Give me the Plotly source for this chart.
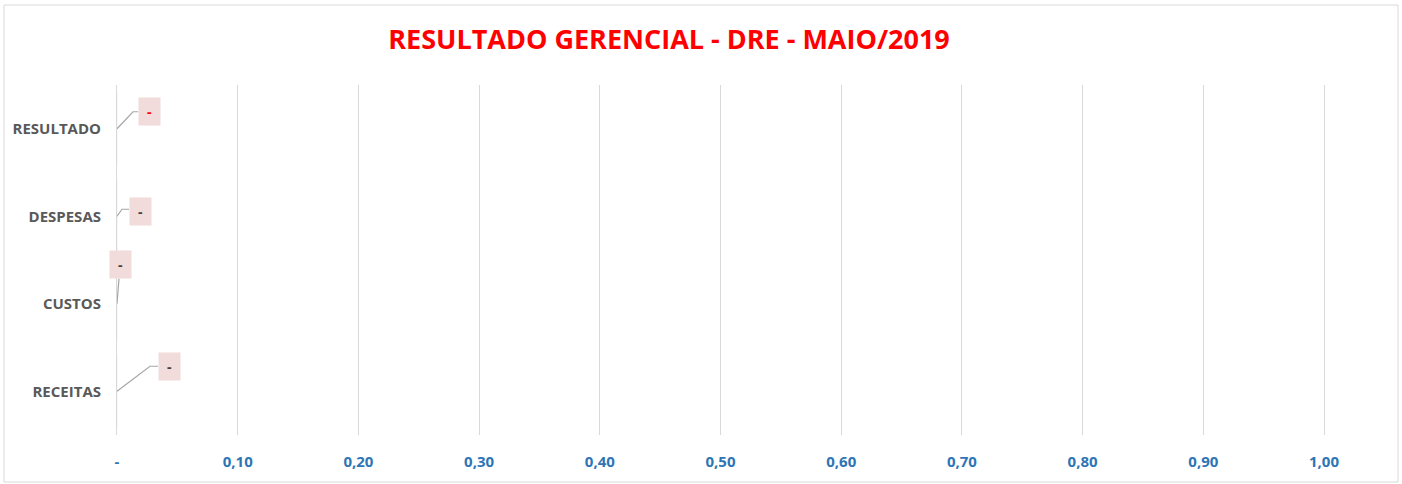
import plotly.graph_objects as go

# Data
categories = ["RECEITAS", "CUSTOS", "DESPESAS", "RESULTADO"]
values = [0.0, 0.0, 0.0, 0.0]
value_labels = ["-", "-", "-", "-"]
tick_values = [0.0, 0.1, 0.2, 0.3, 0.4, 0.5, 0.6, 0.7, 0.8, 0.9, 1.0]
title_text = "RESULTADO GERENCIAL - DRE - MAIO/2019"

W, H = 1402, 484
ML, MR, MT, MB = 117, 78, 85, 49

# label placement (pixel offsets from bar end): box centre, leader path
label_style = [
    dict(dx=52, dy=-25, path="M0,0 L33,25 L41,25", color="#404040"),
    dict(dx=3, dy=-39, path="M0,0 L2,25", color="#404040"),
    dict(dx=23, dy=-5, path="M0,0 L5,7 L12,7", color="#404040"),
    dict(dx=32, dy=-17, path="M0,0 L16,17 L21,17", color="#FF0000"),
]


def fmt_tick(v):
    return "-" if v == 0 else f"{v:.2f}".replace(".", ",")


fig = go.Figure(go.Bar(
    x=values, y=categories, orientation="h",
    marker=dict(color="#4472C4"), hoverinfo="skip", showlegend=False,
))

for cat, val, lab, st in zip(categories, values, value_labels, label_style):
    fig.add_shape(
        type="path", xref="x", yref="y",
        xsizemode="pixel", ysizemode="pixel",
        xanchor=val, yanchor=cat, path=st["path"],
        line=dict(color="#A6A6A6", width=1.2),
    )
    fig.add_annotation(
        x=val, y=cat, xref="x", yref="y", showarrow=False,
        xshift=st["dx"], yshift=-st["dy"],
        text=lab, width=15, height=21, bgcolor="#F2DCDB", borderpad=3,
        font=dict(family="Open Sans", size=14, color=st["color"], weight="bold"),
    )

# outer chart border
pw, ph = W - ML - MR, H - MT - MB
fig.add_shape(
    type="rect", xref="paper", yref="paper",
    x0=(4 - ML) / pw, x1=(1398 - ML) / pw,
    y0=1 - (482 - MT) / ph, y1=1 - (5 - MT) / ph,
    line=dict(color="#D9D9D9", width=1), layer="below",
)

fig.update_layout(
    width=W, height=H,
    margin=dict(l=ML, r=MR, t=MT, b=MB),
    paper_bgcolor="white", plot_bgcolor="white",
    title=dict(
        text=title_text, x=(669 - ML) / pw, xref="paper", xanchor="center",
        y=1 - 40 / H, yanchor="middle",
        font=dict(family="Open Sans", size=27, color="#FF0000", weight="bold"),
    ),
    xaxis=dict(
        range=[0, 1.0], tickvals=tick_values,
        ticktext=[fmt_tick(v) for v in tick_values],
        showgrid=True, gridcolor="#D9D9D9", gridwidth=1,
        zeroline=False, showline=False, ticks="",
        tickfont=dict(family="Open Sans", size=15, color="#2E75B6", weight="bold"),
        ticklabelstandoff=16, automargin=False,
    ),
    yaxis=dict(
        categoryorder="array", categoryarray=categories,
        showgrid=False, zeroline=False, ticks="",
        showline=True, mirror=True, linecolor="#D9D9D9", linewidth=1,
        tickfont=dict(family="Open Sans", size=15, color="#595959", weight="bold"),
        ticklabelstandoff=12, automargin=False,
    ),
)

fig.write_html(
    "out.html",
    config={"displayModeBar": False},
    post_script="document.body.style.margin='0';",
)
